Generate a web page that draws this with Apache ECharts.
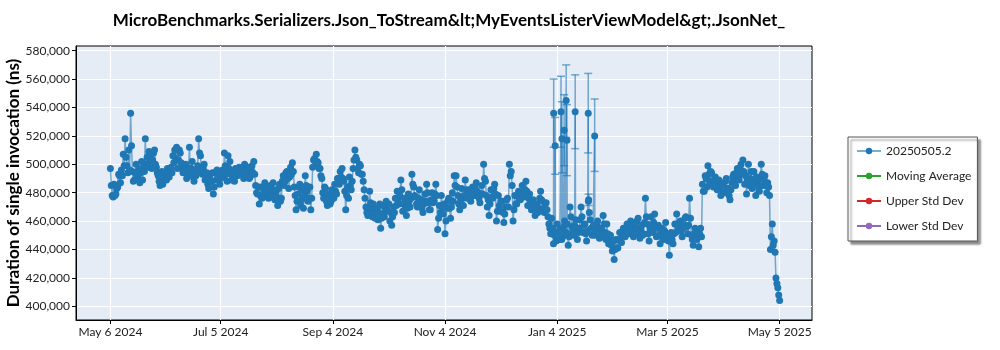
<!DOCTYPE html>
<html>
<head>
<meta charset="utf-8">
<script src="https://cdn.jsdelivr.net/npm/echarts@6/dist/echarts.min.js"></script>
<style>
  html, body { margin: 0; padding: 0; background: #fff; }
  #chart { width: 1000px; height: 350px; }
</style>
</head>
<body>
<div id="chart"></div>
<script>
// x is days since May 6 2024, values are in thousands of ns
const tickDays = [0, 60, 121, 182, 243, 303, 364]
const tickLabels = ['May 6 2024', 'Jul 5 2024', 'Sep 4 2024', 'Nov 4 2024', 'Jan 4 2025', 'Mar 5 2025', 'May 5 2025']
const yTicks = [400000, 420000, 440000, 460000, 480000, 500000, 520000, 540000, 560000, 580000]

// first run of each day (at day + 0)
const runAK = [
  497, 478, 486, 479, 484, 492, 496, 507, 518, 499,
  510, 536, 495, 489, 500, 492, 487, 502, 498, 518,
  505, 509, 507, 503, 510, 498, 492, 485, 495, 489,
  494, 497, 491, 498, 506, 510, 512, 503, 508, 497,
  495, 500, 493, 512, 497, 491, 496, 494, 518, 506,
  493, 500, 490, 486, 492, 488, 479, 494, 496, 491,
  490, 496, 508, 493, 506, 502, 489, 494, 497, 492,
  498, 493, 496, 500, 494, 497, 491, 499, 502, 485,
  479, 472, 484, 477, 487, 480, 476, 485, 478, 482,
  481, 471, 486, 476, 492, 488, 495, 483, 498, 501,
  484, 468, 479, 486, 475, 469, 492, 481, 476, 468,
  498, 504, 507, 501, 497, 490, 476, 483, 471, 479,
  474, 481, 486, 479, 490, 495, 497, 488, 468, 484,
  491, 482, 497, 510, 503, 494, 499, 493, 482, 470,
  464, 481, 468, 472, 462, 469, 466, 455, 471, 463,
  474, 467, 460, 457, 470, 476, 481, 472, 489, 467,
  476, 464, 479, 470, 493, 484, 477, 470, 482, 475,
  466, 479, 486, 473, 468, 480, 474, 486, 454, 471,
  478, 465, 451, 469, 476, 462, 480, 492, 492, 478,
  468, 483, 471, 489, 476, 482, 474, 484, 478, 487,
  480, 473, 485, 500, 488, 470, 464, 482, 476, 486,
  460, 478, 467, 474, 459, 470, 476, 500, 495, 460,
  478, 472, 481, 475, 485, 477, 488, 471, 479, 468,
  475, 464, 472, 469, 481, 474, 466, 473, 463, 455,
  462, 444, 452, 458, 447, 454, 449, 460, 452, 443,
  470, 456, 450, 461, 447, 455, 470, 452, 458, 446,
  474, 461, 450, 457, 453, 460, 448, 455, 464, 452,
  458, 444, 450, 439, 433, 447, 441, 452, 445, 455,
  449, 458, 451, 460, 453, 457, 455, 462, 448, 457,
  451, 476, 458, 446, 463, 452, 465, 449, 457, 444,
  455, 447, 459, 450, 436, 452, 444, 458, 465, 454,
  460, 449, 457, 463, 451, 476, 450, 443, 455, 447,
  442, 455, 486, 481, 490, 499, 488, 494, 484, 491,
  482, 489, 478, 486, 480, 490, 483, 475, 487, 493,
  485, 497, 489, 500, 503, 486, 479, 500, 490, 483,
  495, 478, 488, 481, 500, 485, 492, 480, 484, 440,
  458, 446, 420, 413, 404
]

// second run of each day (at day + 0.5)
const runBK = [
  485, 477, 478, 483, 493, 487, 492, 499, 505, 494,
  496, 513, 488, 494, 491, 497, 494, 489, 495, 500,
  498, 502, 497, 508, 500, 494, 488, 491, 486, 493,
  489, 492, 497, 494, 501, 504, 497, 510, 501, 494,
  499, 490, 497, 494, 502, 488, 492, 499, 508, 496,
  497, 489, 494, 483, 488, 494, 484, 489, 491, 486,
  494, 491, 499, 488, 497, 493, 495, 488, 492, 496,
  493, 497, 490, 494, 498, 490, 495, 494, 493, 480,
  484, 478, 476, 482, 479, 484, 481, 477, 487, 475,
  477, 483, 474, 488, 485, 494, 490, 491, 493, 495,
  478, 474, 484, 471, 482, 478, 485, 474, 484, 476,
  503, 499, 502, 497, 492, 480, 484, 474, 477, 472,
  482, 476, 481, 490, 486, 491, 490, 481, 478, 476,
  485, 488, 503, 505, 497, 500, 493, 488, 476, 466,
  470, 473, 463, 466, 468, 461, 472, 462, 465, 469,
  468, 472, 466, 463, 466, 471, 475, 478, 482, 472,
  470, 469, 474, 476, 486, 478, 472, 476, 474, 469,
  472, 474, 480, 468, 475, 473, 479, 478, 462, 466,
  470, 472, 460, 474, 469, 470, 474, 485, 484, 472,
  475, 476, 478, 482, 481, 476, 479, 478, 483, 481,
  476, 479, 479, 490, 478, 475, 472, 477, 483, 479,
  467, 471, 474, 466, 465, 475, 470, 492, 485, 468,
  472, 478, 476, 480, 478, 482, 481, 476, 473, 474,
  469, 470, 466, 476, 475, 469, 472, 468, 458, 451,
  455, 450, 446, 452, 454, 447, 456, 451, 458, 449,
  463, 452, 457, 455, 452, 461, 463, 457, 451, 453,
  466, 455, 456, 450, 458, 452, 455, 449, 458, 447,
  451, 448, 443, 446, 440, 441, 447, 446, 450, 451,
  454, 452, 456, 455, 449, 452, 460, 451, 454, 450,
  459, 463, 451, 455, 456, 459, 456, 455, 450, 451,
  448, 453, 451, 446, 446, 447, 451, 452, 457, 459,
  453, 455, 462, 456, 457, 462, 447, 451, 448, 453,
  451, 449, 481, 492, 484, 493, 495, 486, 489, 485,
  488, 483, 485, 480, 488, 483, 478, 482, 491, 488,
  494, 490, 496, 493, 495, 492, 489, 485, 495, 488,
  487, 491, 484, 490, 493, 489, 485, 487, 478, 449,
  443, 438, 416, 408
]

// extra runs with wide error bars around Jan 2025
const extraDays = [241.1, 241.9, 245.1, 245.6, 246.8, 247.9, 248.3, 252.8, 259.9, 260.1, 263.4]
const extraK = [536, 513, 537, 518, 524, 545, 517, 537, 536, 475, 520]
const extraLowK = [512, 493, 512, 494, 499, 519, 492, 511, 508, 471, 495]
const extraHighK = [560, 533, 562, 544, 549, 570, 542, 563, 564, 479, 546]

const blue = '#1f77b4'
const blueLight = 'rgba(31,119,180,0.6)'
const font = 'Lato'

const points = []
runAK.forEach((v, i) => points.push([i, v * 1000]))
runBK.forEach((v, i) => points.push([i + 0.5, v * 1000]))
extraDays.forEach((d, i) => points.push([d, extraK[i] * 1000]))
points.sort((a, b) => a[0] - b[0])

const bars = extraDays.map((d, i) => [d, extraLowK[i] * 1000, extraHighK[i] * 1000])

function renderBar(params, api) {
  const x = api.value(0)
  const lo = api.coord([x, api.value(1)])
  const hi = api.coord([x, api.value(2)])
  const w = 4
  const style = { stroke: blueLight, lineWidth: 1.5 }
  return {
    type: 'group',
    children: [
      { type: 'line', shape: { x1: lo[0], y1: lo[1], x2: hi[0], y2: hi[1] }, style },
      { type: 'line', shape: { x1: lo[0] - w, y1: lo[1], x2: lo[0] + w, y2: lo[1] }, style },
      { type: 'line', shape: { x1: hi[0] - w, y1: hi[1], x2: hi[0] + w, y2: hi[1] }, style }
    ]
  }
}

const chart = echarts.init(document.getElementById('chart'))
chart.setOption({
  animation: false,
  title: {
    text: 'MicroBenchmarks.Serializers.Json_ToStream&lt;MyEventsListerViewModel&gt;.JsonNet_',
    left: 444,
    top: 7,
    textAlign: 'center',
    textStyle: { fontFamily: font, fontSize: 17, fontWeight: 'bold', color: '#000' }
  },
  legend: {
    orient: 'vertical',
    left: 848,
    top: 137,
    padding: [8, 6, 9, 8],
    itemGap: 13,
    itemWidth: 24,
    itemHeight: 8,
    backgroundColor: '#fff',
    borderColor: '#555',
    borderWidth: 1,
    shadowColor: 'rgba(0,0,0,0.45)',
    shadowOffsetX: 3,
    shadowOffsetY: 3,
    shadowBlur: 2,
    textStyle: { fontFamily: font, fontSize: 12, color: '#222' },
    data: ['20250505.2', 'Moving Average', 'Upper Std Dev', 'Lower Std Dev']
  },
  grid: {
    left: 76,
    right: 188,
    top: 46,
    bottom: 30,
    outerBoundsMode: 'none',
    show: true,
    backgroundColor: '#e5ecf6',
    borderColor: '#000',
    borderWidth: 1
  },
  xAxis: {
    type: 'value',
    min: -18.7,
    max: 381.6,
    axisLine: { onZero: false, lineStyle: { color: '#000' } },
    axisTick: { show: true, length: 4, lineStyle: { color: '#000' }, customValues: tickDays },
    axisLabel: {
      customValues: tickDays,
      fontFamily: font,
      fontSize: 12,
      color: '#222',
      margin: 6,
      formatter: v => tickLabels[tickDays.indexOf(v)]
    },
    splitLine: { show: true, lineStyle: { color: '#fff', width: 1.2 } }
  },
  yAxis: {
    type: 'value',
    min: 390350,
    max: 583300,
    name: 'Duration of single invocation (ns)',
    nameLocation: 'middle',
    nameGap: 54,
    nameMoveOverlap: false,
    nameTextStyle: { fontFamily: font, fontSize: 17, fontWeight: 'bold', color: '#000' },
    axisLine: { show: true, onZero: false, lineStyle: { color: '#000' } },
    axisTick: { show: true, length: 4, lineStyle: { color: '#000' }, customValues: yTicks },
    axisLabel: {
      customValues: yTicks,
      fontFamily: font,
      fontSize: 12,
      color: '#222',
      margin: 6,
      formatter: v => v.toLocaleString('en-US')
    },
    splitLine: { show: true, lineStyle: { color: '#fff', width: 1.2 } }
  },
  series: [
    {
      name: 'errorbars',
      type: 'custom',
      renderItem: renderBar,
      data: bars,
      z: 1
    },
    {
      name: '20250505.2',
      type: 'line',
      data: points,
      symbol: 'circle',
      symbolSize: 7,
      itemStyle: { color: blue },
      lineStyle: { color: blueLight, width: 1.5 },
      z: 2
    },
    { name: 'Moving Average', type: 'line', data: [], symbol: 'circle', itemStyle: { color: '#2ca02c' }, lineStyle: { color: '#2ca02c', width: 1 } },
    { name: 'Upper Std Dev', type: 'line', data: [], symbol: 'circle', itemStyle: { color: '#d62728' }, lineStyle: { color: '#d62728', width: 1 } },
    { name: 'Lower Std Dev', type: 'line', data: [], symbol: 'circle', itemStyle: { color: '#9467bd' }, lineStyle: { color: '#9467bd', width: 1 } }
  ]
})
</script>
</body>
</html>
